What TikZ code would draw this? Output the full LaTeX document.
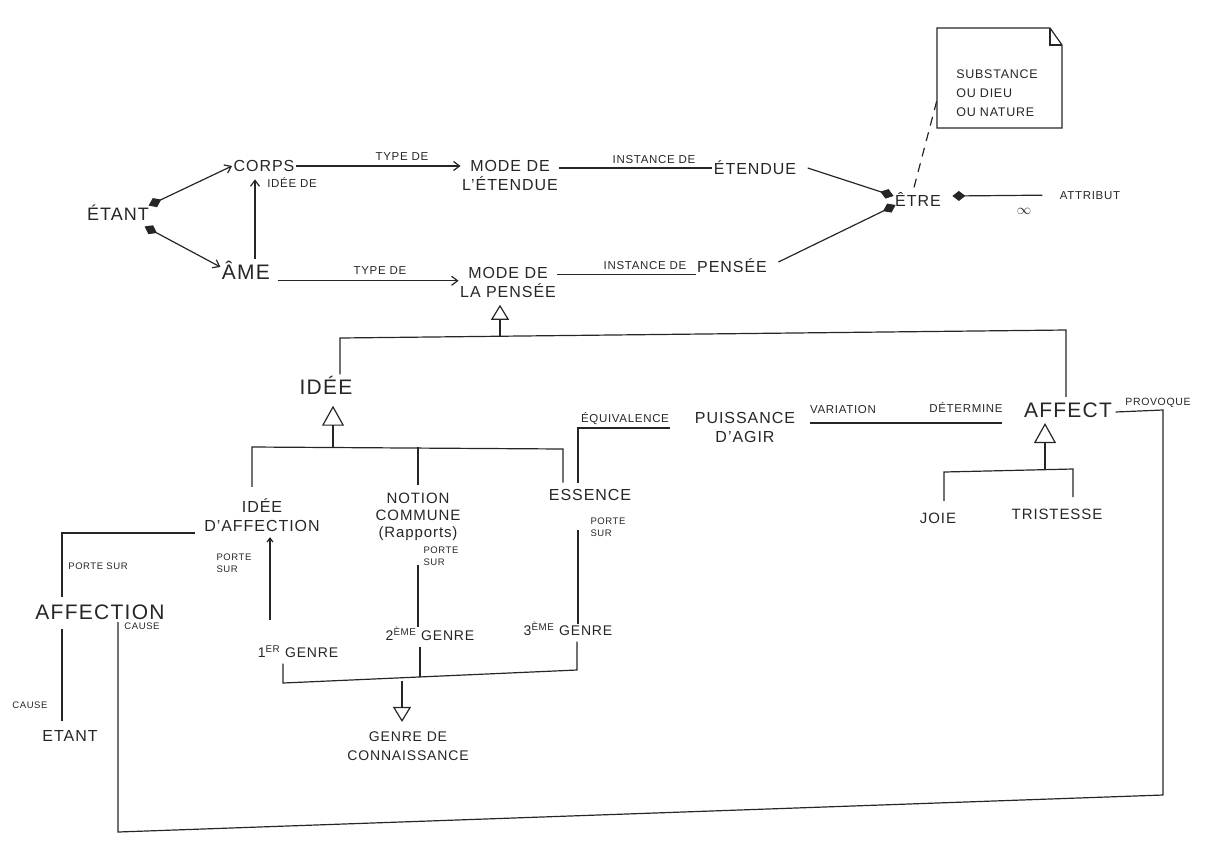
\documentclass[tikz,border=0pt]{standalone}
\usepackage{fontspec}
\setmainfont[LetterSpace=6]{Liberation Sans}
\usetikzlibrary{arrows.meta}
\begin{document}
\begin{tikzpicture}[x=1pt,y=-1pt,line width=1.2pt,draw=black!85,text=black!85,
  big/.style={font=\fontsize{21}{24}\selectfont,inner sep=1pt},
  mid/.style={font=\fontsize{16}{19}\selectfont,inner sep=1pt,align=center},
  gnr/.style={font=\fontsize{14}{19}\selectfont,inner sep=1pt,align=center},
  sm/.style={font=\fontsize{11.5}{13}\selectfont,inner sep=1pt},
  tiny/.style={font=\fontsize{9.5}{12}\selectfont,inner sep=1pt,align=left},
  arr/.style={-{Straight Barb[length=6pt,width=9pt]}},
  diaarr/.style={{Diamond[length=14pt,width=10pt]}-{Straight Barb[length=6pt,width=9pt]}},
  diaend/.style={-{Diamond[length=14pt,width=10pt]}},
  diastart/.style={{Diamond[length=13pt,width=10pt]}-},
  gen/.style={-{Triangle[open,length=15pt,width=18pt]}},
  genbig/.style={-{Triangle[open,length=20pt,width=22pt]}}]
\useasboundingbox (0,0) rectangle (1207,847);

% ---- top row nodes
\node[mid,font=\fontsize{18}{20}\selectfont] (etantA) at (118,213) {ÉTANT};
\node[mid] (corps) at (264,166) {CORPS};
\node[big] (ame) at (246,270) {ÂME};
\node[mid] (modeE) at (510,175) {MODE DE\\L'ÉTENDUE};
\node[mid] (etendue) at (755,168) {ÉTENDUE};
\node[mid] (etre) at (918,200) {ÊTRE};
\node[sm] (attribut) at (1090,196) {ATTRIBUT};
\node[font=\fontsize{15}{15}\selectfont,inner sep=1pt] (inf) at (1024,211) {$\infty$};
\node[mid] (modeP) at (508,282) {MODE DE\\LA PENSÉE};
\node[mid] (pensee) at (732,266) {PENSÉE};

% ---- note
\draw (937,28) -- (1050,28) -- (1062,45) -- (1062,128) -- (937,128) -- cycle;
\draw (1050,28) -- (1050,45) -- (1062,45);
\node[tiny,font=\fontsize{12.5}{19}\selectfont] (note) at (997,93) {SUBSTANCE\\OU DIEU\\OU NATURE};
\coordinate (noteL) at (937,100);

% ---- middle nodes
\node[big] (idee) at (326,385) {IDÉE};
\node[mid] (ideeAff) at (262,515) {IDÉE\\D'AFFECTION};
\node[mid,font=\fontsize{15}{17}\selectfont] (notion) at (418,517) {NOTION\\COMMUNE\\(Rapports)};
\node[mid] (essence) at (590,495) {ESSENCE};
\node[mid] (puiss) at (745,427) {PUISSANCE\\D'AGIR};
\node[big] (affect) at (1068,410) {AFFECT};
\node[mid,font=\fontsize{15}{17}\selectfont] (joie) at (938,518) {JOIE};
\node[mid,font=\fontsize{15}{17}\selectfont] (trist) at (1057,514) {TRISTESSE};

% ---- lower nodes
\node[big] (affection) at (100,612) {AFFECTION};
\node[mid] (etantB) at (70,736) {ETANT};
\node[gnr] (g1) at (298,652) {1\textsuperscript{ER} GENRE};
\node[gnr] (g2) at (430,634) {2\textsuperscript{ÈME} GENRE};
\node[gnr] (g3) at (568,629) {3\textsuperscript{ÈME} GENRE};
\node[gnr] (genre) at (408,746) {GENRE DE\\CONNAISSANCE};

% ---- top connectors
\draw[diaarr] ([xshift=-2pt,yshift=-2pt]etantA.north east) -- (corps.west);
\draw[diaarr] ([xshift=-6pt,yshift=-4pt]etantA.south east) -- ([yshift=3pt]ame.west);
\coordinate (idv) at (255,0);
\draw[arr] (idv |- ame.north) -- ([yshift=-6pt]idv |- corps.south);
\node[sm] (lIdee) at (292,183) {IDÉE DE};
\draw[arr] (corps.east) -- (modeE.west |- corps.east);
\node[sm] (lType1) at (402,157) {TYPE DE};
\draw (modeE.east |- etendue.west) -- (etendue.west);
\node[sm] (lInst1) at (654,160) {INSTANCE DE};
\draw[diaend] ([xshift=10pt]etendue.east) -- ([yshift=4pt]etre.west);
\draw[diaend] ([xshift=10pt,yshift=4pt]pensee.east) -- ([xshift=2pt,yshift=-5pt]etre.west);
\draw[diastart,shorten >=16pt] ([xshift=10pt,yshift=4pt]etre.east) -- ([yshift=1pt]attribut.west);
\draw[dashed,dash pattern=on 9pt off 7pt] ([xshift=-4pt,yshift=4pt]etre.north) -- (noteL);
\draw[arr] ([xshift=6pt]ame.south east) -- (modeP.west |- ame.south east);
\node[sm] (lType2) at (380,271) {TYPE DE};
\draw (modeP.east |- pensee.south west) -- (pensee.south west);
\node[sm] (lInst2) at (645,266) {INSTANCE DE};

% ---- generalization of MODE DE LA PENSEE
\coordinate (busL) at (340,338);
\coordinate (busR) at (1066,330);
\coordinate (busM) at (500,337);
\draw (busL |- idee.north) -- (busL) -- (busR) -- ([yshift=4pt]busR |- affect.north);
\draw[gen] (busM) -- ([yshift=-6pt]busM |- modeP.south);

% ---- generalization of IDEE
\coordinate (b2L) at (252,447);
\coordinate (b2R) at (563,449);
\coordinate (t2) at (333,448);
\draw[genbig] (t2) -- ([yshift=-10pt]t2 |- idee.south);
\draw ([yshift=10pt]b2L |- ideeAff.north) -- (b2L) -- (b2R) -- ([yshift=5pt]b2R |- essence.north);
\draw (notion.north |- b2L) -- ([yshift=7pt]notion.north);

% ---- essence / puissance / affect
\coordinate (eq) at (578,428);
\draw ([yshift=5pt]eq |- essence.north) -- (eq) -- (670,428);
\node[sm] (lEq) at (625,419) {ÉQUIVALENCE};
\coordinate (va) at (810,423);
\draw (va) -- ([xshift=-20pt]affect.west |- va);
\node[sm] (lVar) at (843,410) {VARIATION};
\node[sm] (lDet) at (966,408) {DÉTERMINE};

% ---- provoque loop
\coordinate (pr1) at (1163,410);
\coordinate (pr2) at (1163,795);
\coordinate (pr3) at (118,832);
\coordinate (pr4) at (118,622);
\draw ([xshift=2pt,yshift=-2pt]affect.east) -- (pr1) -- (pr2) -- (pr3) -- (pr4);
\node[sm,font=\fontsize{10.5}{12}\selectfont] (lProv) at (1158,403) {PROVOQUE};
\node[tiny] (lCause1) at (142,626) {CAUSE};

% ---- generalization of AFFECT
\coordinate (b3L) at (944,472);
\coordinate (b3R) at (1073,469);
\coordinate (t3) at (1045,470);
\draw[genbig] (t3) -- ([yshift=-4pt]t3 |- affect.south);
\draw ([yshift=10pt]b3L |- joie.north) -- (b3L) -- (b3R) -- ([yshift=10pt]b3R |- trist.north);

% ---- idee d'affection / affection / etant
\coordinate (ps) at (62,533);
\draw ([xshift=-8pt]ideeAff.west |- ps) -- (ps) -- ([yshift=6pt]ps |- affection.north);
\node[tiny] (lPorte0) at (98,566) {PORTE SUR};
\draw ([yshift=-8pt]ps |- affection.south) -- ([yshift=8pt]ps |- etantB.north);
\node[tiny] (lCause2) at (30,705) {CAUSE};

% ---- genres
\coordinate (c1) at (270,620);
\draw[-{Straight Barb[length=4pt,width=6pt]}] (c1) -- ([yshift=-4pt]c1 |- ideeAff.south);
\node[tiny] (lPorte1) at (234,563) {PORTE\\SUR};
\coordinate (c2) at (418,565);
\draw (c2) -- ([yshift=-2pt]c2 |- g2.north);
\node[tiny] (lPorte2) at (441,556) {PORTE\\SUR};
\coordinate (c3) at (578,530);
\draw (c3) -- ([yshift=-4pt]c3 |- g3.north);
\node[tiny] (lPorte3) at (608,527) {PORTE\\SUR};

\coordinate (k1) at (283,683);
\coordinate (k2) at (420,677);
\coordinate (k3) at (577,670);
\coordinate (k4) at (402,681);
\draw ([yshift=-4pt]k1 |- g1.south) -- (k1) -- (k3) -- ([yshift=-4pt]k3 |- g3.south);
\draw (k2) -- ([yshift=-4pt]k2 |- g2.south);
\draw[gen] (k4) -- ([yshift=8pt]k4 |- genre.north);
\end{tikzpicture}
\end{document}
